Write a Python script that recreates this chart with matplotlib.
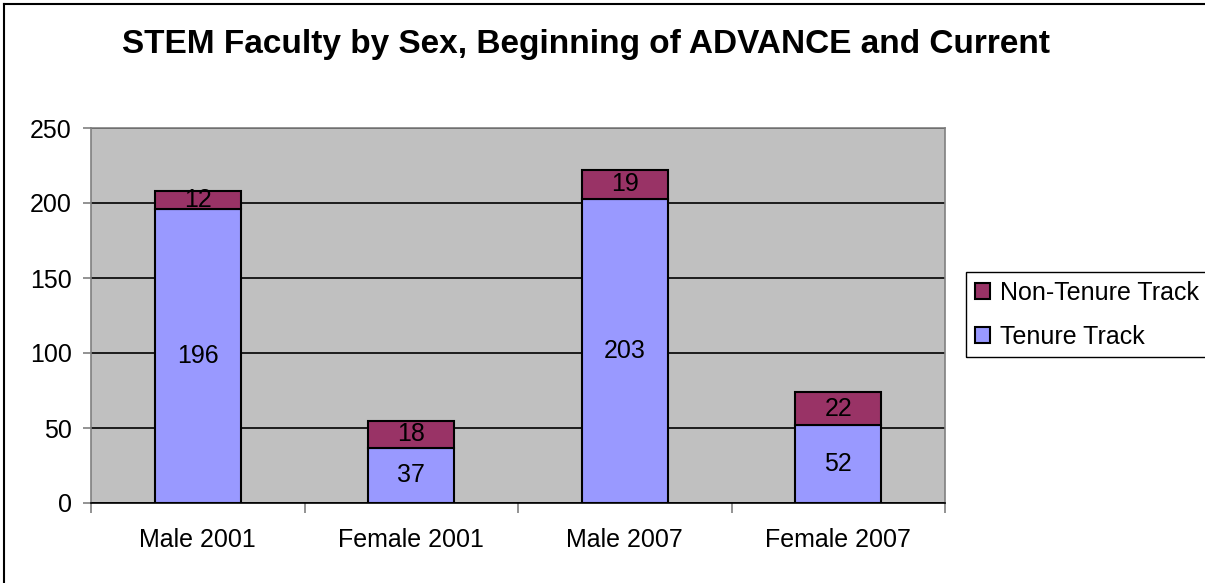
import matplotlib.pyplot as plt
from matplotlib.lines import Line2D
from matplotlib.patches import Rectangle

plt.rcParams['font.family'] = ['Liberation Sans', 'DejaVu Sans']

categories = ['Male 2001', 'Female 2001', 'Male 2007', 'Female 2007']
tenure = [196, 37, 203, 52]
non_tenure = [12, 18, 19, 22]
y_ticks = [0, 50, 100, 150, 200, 250]

TENURE_COLOR = '#9999FF'
NON_TENURE_COLOR = '#993366'

fig = plt.figure(figsize=(12.05, 5.83), dpi=100)
ax = fig.add_axes([91 / 1205, 1 - 503 / 583, (945 - 91) / 1205, (503 - 128) / 583])
ax.set_facecolor('#C0C0C0')

x = range(len(categories))
b1 = ax.bar(x, tenure, width=0.405, color=TENURE_COLOR, edgecolor='black',
            linewidth=1.5, label='Tenure Track', zorder=3)
b2 = ax.bar(x, non_tenure, bottom=tenure, width=0.405, color=NON_TENURE_COLOR,
            edgecolor='black', linewidth=1.5, label='Non-Tenure Track', zorder=3)

# data labels centered in each segment
for i in x:
    ax.text(i, tenure[i] / 2, str(tenure[i]), ha='center', va='center',
            fontsize=18, zorder=4)
    ax.text(i, tenure[i] + non_tenure[i] / 2, str(non_tenure[i]), ha='center',
            va='center', fontsize=18, zorder=4)

ax.set_xlim(-0.5, len(categories) - 0.5)
ax.set_ylim(0, 250)
ax.set_yticks(y_ticks)
ax.set_yticklabels([str(v) for v in y_ticks], fontsize=18)
ax.yaxis.grid(True, color='black', linewidth=1.2, zorder=1)
ax.set_axisbelow(True)

ax.set_xticks(list(x))
ax.set_xticklabels(categories, fontsize=18)
ax.tick_params(axis='x', length=0, pad=18)
ax.set_xticks([i + 0.5 for i in range(-1, len(categories))], minor=True)
ax.tick_params(axis='x', which='minor', length=7, color='#808080', width=1.2)
ax.tick_params(axis='y', length=6, width=1.2, color='#808080', pad=8)

for side in ['top', 'right', 'left']:
    ax.spines[side].set_color('#808080')
    ax.spines[side].set_linewidth(1.2)
ax.spines['bottom'].set_color('black')
ax.spines['bottom'].set_linewidth(1.2)

fig.text(586 / 1205, 1 - 45 / 583, 'STEM Faculty by Sex, Beginning of ADVANCE and Current',
         ha='center', va='center', fontsize=24, fontweight='bold')

leg = ax.legend(handles=[b2, b1], loc='upper left',
                bbox_to_anchor=(966 / 1205, 1 - 272 / 583), bbox_transform=fig.transFigure,
                fontsize=18, frameon=False,
                handlelength=0.6, handleheight=0.6, handletextpad=0.4,
                borderpad=0.35, labelspacing=0.8, borderaxespad=0)

# legend box runs off the right edge of the chart, as in the original
fig.add_artist(Rectangle((966 / 1205, 1 - 357 / 583), 260 / 1205, 85 / 583,
                         transform=fig.transFigure, fill=False,
                         edgecolor='black', linewidth=1.0))

# outer chart border
fig.add_artist(Line2D([4 / 1205, 4 / 1205], [0, 1 - 4 / 583], color='black', linewidth=1.5))
fig.add_artist(Line2D([4 / 1205, 1], [1 - 4 / 583, 1 - 4 / 583], color='black', linewidth=1.5))

fig.savefig('out.png', dpi=100)
